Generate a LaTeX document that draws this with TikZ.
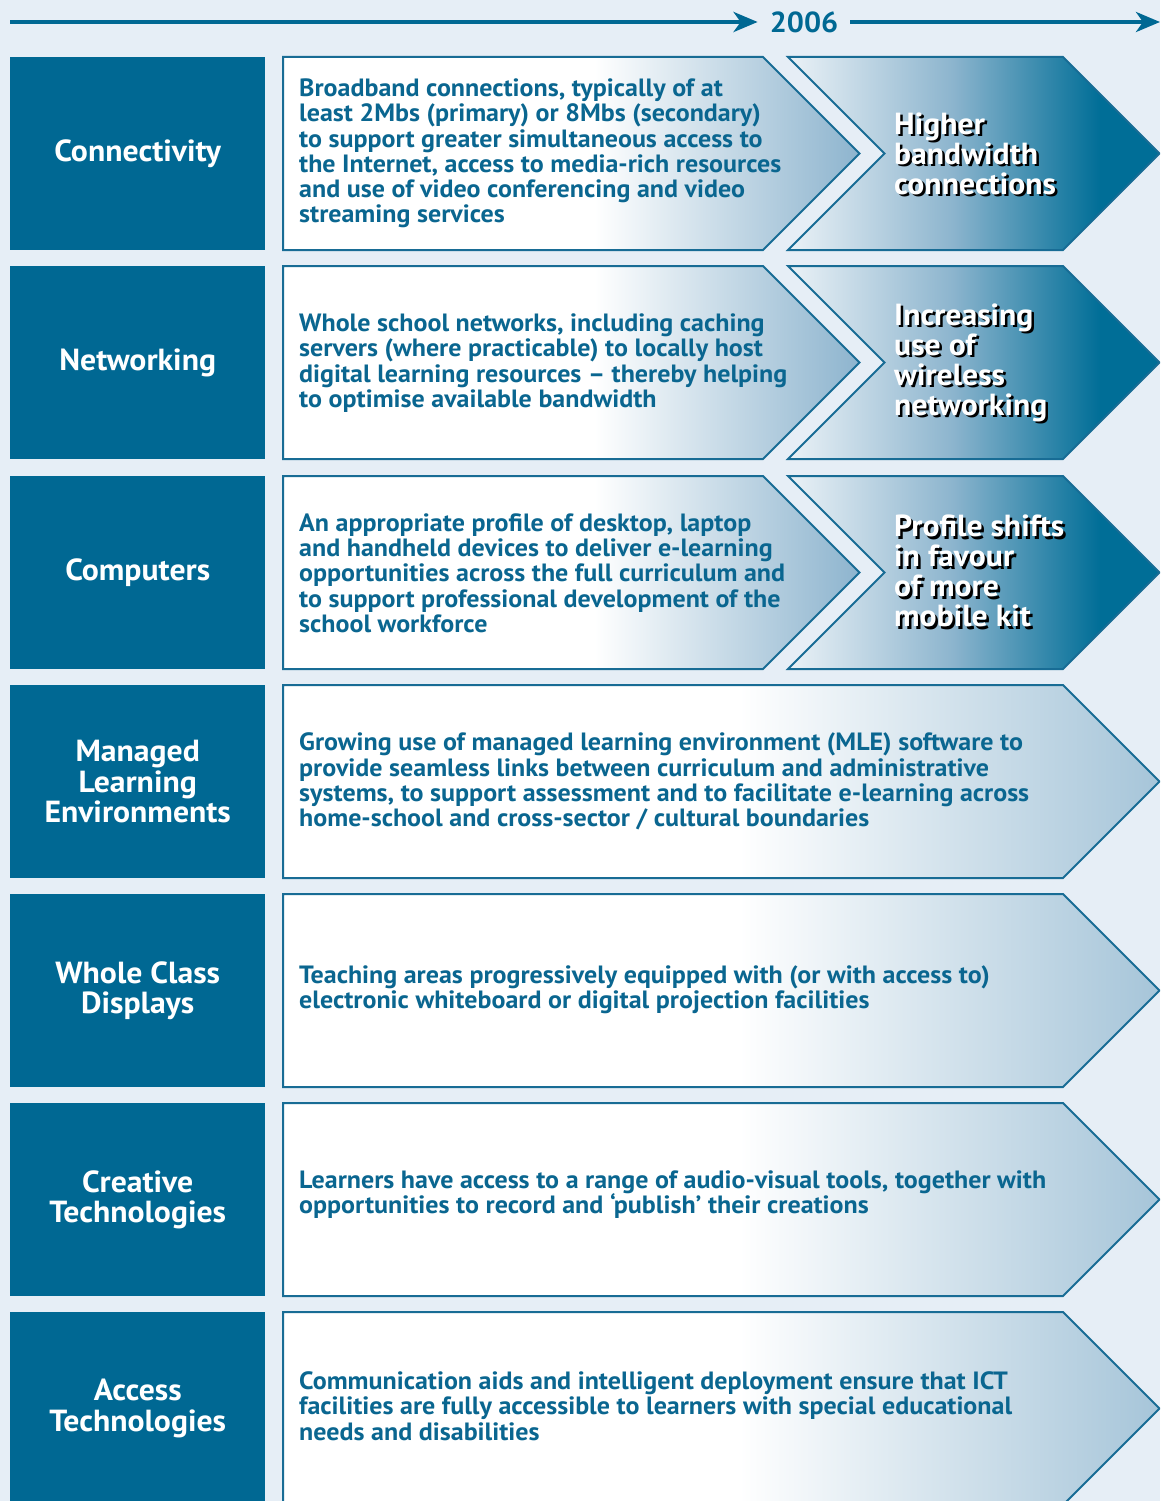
\documentclass[tikz,border=0pt]{standalone}
\usepackage{fontspec}
\setmainfont{PT Sans}[FakeStretch=1.04]
\usepackage{tikz}
\usetikzlibrary{arrows.meta}

\definecolor{bgblue}{HTML}{E6EEF6}
\definecolor{darkblue}{HTML}{006893}
\definecolor{lineblue}{HTML}{186C95}
\definecolor{textblue}{HTML}{0A6690}
\definecolor{tipblue}{HTML}{8DB4CE}
\definecolor{paleblue}{HTML}{A6C5D9}
\definecolor{chevlight}{HTML}{EBF2F7}
\definecolor{chevmid}{HTML}{8DB5CE}
\definecolor{chevdark}{HTML}{006E97}

\pgfdeclarehorizontalshading{shortfade}{100bp}{color(0bp)=(white); color(52bp)=(white); color(75bp)=(tipblue); color(100bp)=(tipblue)}
\pgfdeclarehorizontalshading{longfade}{100bp}{color(0bp)=(white); color(51bp)=(white); color(75bp)=(paleblue); color(100bp)=(paleblue)}
\pgfdeclarehorizontalshading{chevfade}{100bp}{color(0bp)=(chevlight); color(25bp)=(chevlight); color(47bp)=(chevmid); color(67bp)=(chevdark); color(100bp)=(chevdark)}

\tikzset{
  areabox/.style={rectangle,fill=darkblue,text=white,minimum width=255pt,minimum height=193pt,
    inner sep=0pt,align=center,anchor=north west,font=\fontsize{30.5}{30.5}\selectfont\bfseries},
  bodytext/.style={text=textblue,align=left,anchor=west,inner sep=0pt,
    font=\fontsize{25}{25.3}\selectfont\bfseries},
  chevtext/.style={text=white,align=left,anchor=west,inner sep=0pt,
    font=\fontsize{30.5}{30}\selectfont\bfseries},
  chevshadow/.style={chevtext,text=black},
  arrowline/.style={draw=lineblue,line width=2pt,line join=miter},
  timeline/.style={draw=darkblue,line width=4pt,-{Stealth[length=24pt,width=20pt,inset=7pt]}},
  yearlabel/.style={text=darkblue,inner xsep=12pt,font=\fontsize{29}{30}\selectfont\bfseries}
}

% #1 = top of the row
\newcommand\shortarrow[1]{\shadedraw[arrowline,shading=shortfade] (283,#1) -- (763,#1) -- (859.5,#1+96.5) -- (763,#1+193) -- (283,#1+193) -- cycle;}
\newcommand\longarrow[1]{\shadedraw[arrowline,shading=longfade] (283,#1) -- (1063,#1) -- (1159.5,#1+96.5) -- (1063,#1+193) -- (283,#1+193) -- cycle;}
\newcommand\chevron[1]{\shadedraw[arrowline,shading=chevfade] (788,#1) -- (1063,#1) -- (1159.5,#1+96.5) -- (1063,#1+193) -- (788,#1+193) -- (884.5,#1+96.5) -- cycle;}
% #1 = name, #2 = middle of the row, #3 = text
\newcommand\chevlabel[3]{\node[chevshadow] (#1s) at(896.5,#2+2.5){#3};
  \node[chevtext] (#1) at(894,#2){#3};}

\begin{document}
\begin{tikzpicture}[x=1pt,y=-1pt]
\useasboundingbox (0,0) rectangle (1160,1501);
\clip (0,0) rectangle (1160,1501);
\fill[bgblue] (0,0) rectangle (1160,1501);

\coordinate (tlstart) at(10,22);
\node[yearlabel] (yr) at(804,22){2006};
\coordinate (tlend) at(1160,22);
\draw[timeline](tlstart) -- (yr);
\draw[timeline](yr) -- (tlend);

\node[areabox] (conn) at(10,57){Connectivity};
\shortarrow{57}
\chevron{57}
\node[bodytext] (conntxt) at(299,153.5){Broadband connections, typically of at\\least 2Mbs (primary) or 8Mbs (secondary)\\to support greater simultaneous access to\\the Internet, access to media-rich resources\\and use of video conferencing and video\\streaming services};
\chevlabel{connnext}{153.5}{Higher\\bandwidth\\connections}

\node[areabox] (net) at(10,266){Networking};
\shortarrow{266}
\chevron{266}
\node[bodytext] (nettxt) at(299,363){Whole school networks, including caching\\servers (where practicable) to locally host\\digital learning resources – thereby helping\\to optimise available bandwidth};
\chevlabel{netnext}{362.5}{Increasing\\use of\\wireless\\networking}

\node[areabox] (comp) at(10,476){Computers};
\shortarrow{476}
\chevron{476}
\node[bodytext] (comptxt) at(299,573){An appropriate profile of desktop, laptop\\and handheld devices to deliver e-learning\\opportunities across the full curriculum and\\to support professional development of the\\school workforce};
\chevlabel{compnext}{571}{Profile shifts\\in favour\\of more\\mobile kit}

\node[areabox] (mle) at(10,685){Managed\\Learning\\Environments};
\longarrow{685}
\node[bodytext] (mletxt) at(299,781.5){Growing use of managed learning environment (MLE) software to\\provide seamless links between curriculum and administrative\\systems, to support assessment and to facilitate e-learning across\\home-school and cross-sector / cultural boundaries};

\node[areabox] (disp) at(10,894){Whole Class\\Displays};
\longarrow{894}
\node[bodytext] (disptxt) at(299,989.5){Teaching areas progressively equipped with (or with access to)\\electronic whiteboard or digital projection facilities};

\node[areabox] (creat) at(10,1103){Creative\\Technologies};
\longarrow{1103}
\node[bodytext] (creattxt) at(299,1194.5){Learners have access to a range of audio-visual tools, together with\\opportunities to record and ‘publish’ their creations};

\node[areabox] (acc) at(10,1312){Access\\Technologies};
\longarrow{1312}
\node[bodytext] (acctxt) at(299,1406){Communication aids and intelligent deployment ensure that ICT\\facilities are fully accessible to learners with special educational\\needs and disabilities};
\end{tikzpicture}
\end{document}
